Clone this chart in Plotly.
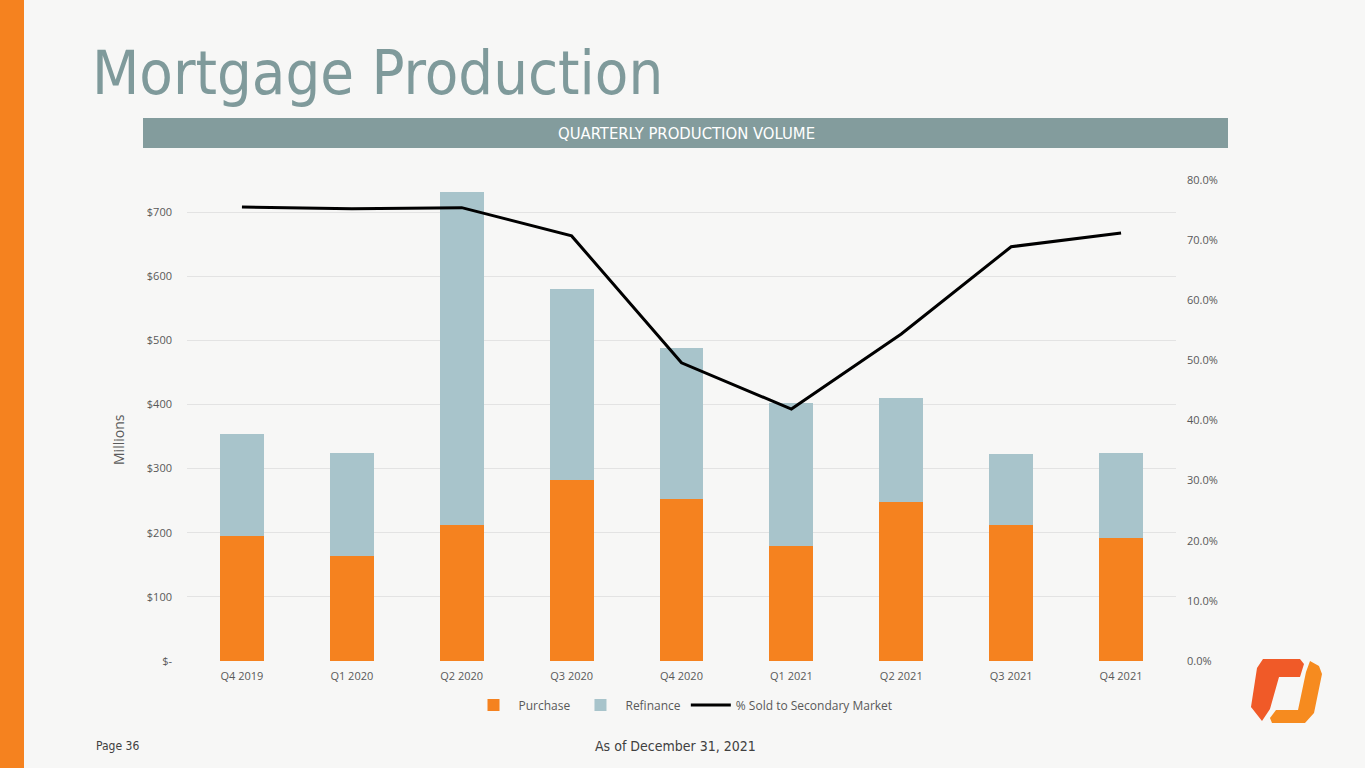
#!/usr/bin/env python3
# plot.py - quarterly mortgage production slide, rebuilt with plotly

import plotly.graph_objects as go

W, H = 1365, 768

quarters = ["Q4 2019", "Q1 2020", "Q2 2020", "Q3 2020", "Q4 2020",
            "Q1 2021", "Q2 2021", "Q3 2021", "Q4 2021"]
purchase = [195, 164, 212, 282, 253, 179, 248, 212, 192]
refinance = [159, 160, 519, 298, 235, 223, 162, 111, 132]
pct_sold = [0.755, 0.752, 0.754, 0.707, 0.496, 0.419, 0.544, 0.689, 0.712]

left_ticks = [0, 100, 200, 300, 400, 500, 600, 700]
left_labels = ["$-", "$100", "$200", "$300", "$400", "$500", "$600", "$700"]

ORANGE = "#f5821f"
REFI = "#a8c4cb"
SLATE = "#839c9d"
GREY_TXT = "#595959"
FONT = "Liberation Sans Narrow, DejaVu Sans Condensed, Open Sans, sans-serif"
TICK_FONT = "Open Sans, Noto Sans, sans-serif"


def px(x, y):
    """pixel -> paper coords (margins are zero)"""
    return x / W, 1 - y / H


def path_from(points):
    parts = []
    for i, (x, y) in enumerate(points):
        u, v = px(x, y)
        parts.append(("M" if i == 0 else "L") + f"{u:.5f},{v:.5f}")
    return " ".join(parts) + " Z"


fig = go.Figure()

fig.add_trace(go.Bar(x=quarters, y=purchase, name="Purchase",
                     marker=dict(color=ORANGE, line=dict(width=0))))
fig.add_trace(go.Bar(x=quarters, y=refinance, name="Refinance",
                     marker=dict(color=REFI, line=dict(width=0))))
fig.add_trace(go.Scatter(x=quarters, y=pct_sold, name="% Sold to Secondary Market",
                         mode="lines", line=dict(color="black", width=3),
                         yaxis="y2"))

x0, x1 = px(187, 0)[0], px(1176, 0)[0]
y_bot, y_top = px(0, 661)[1], px(0, 180)[1]

shapes = [
    # orange strip on the left edge
    dict(type="rect", xref="paper", yref="paper", x0=0, x1=24 / W, y0=0, y1=1,
         fillcolor=ORANGE, line=dict(width=0), layer="below"),
    # section header bar
    dict(type="rect", xref="paper", yref="paper",
         x0=143 / W, x1=1228 / W, y0=1 - 148 / H, y1=1 - 118 / H,
         fillcolor=SLATE, line=dict(width=0), layer="below"),
    # logo, left piece (slanted top bar + stem)
    dict(type="path", xref="paper", yref="paper", layer="above",
         path=path_from([(1263, 659), (1300, 659), (1304, 664), (1300, 677),
                         (1279, 677), (1270, 709), (1262, 721), (1251, 707),
                         (1257, 668)]),
         fillcolor="#f05a28", line=dict(width=0)),
    # logo, right piece (stem + bottom bar)
    dict(type="path", xref="paper", yref="paper", layer="above",
         path=path_from([(1310, 661), (1319, 666), (1322, 674), (1314, 713),
                         (1305, 723), (1272, 723), (1270, 718), (1276, 710),
                         (1298, 710), (1306, 672)]),
         fillcolor="#f68b1f", line=dict(width=0)),
]

annotations = [
    dict(text="Mortgage Production", x=90 / W, y=1 - 110 / H, xref="paper", yref="paper",
         xanchor="left", yanchor="bottom", showarrow=False,
         font=dict(family=FONT, size=61, color="#7f9a9b")),
    dict(text="QUARTERLY PRODUCTION VOLUME", x=686 / W, y=1 - 133 / H,
         xref="paper", yref="paper", xanchor="center", yanchor="middle",
         showarrow=False, font=dict(family=FONT, size=16.5, color="white")),
    dict(text="Millions", x=118 / W, y=1 - 440 / H, xref="paper", yref="paper",
         textangle=-90, xanchor="center", yanchor="middle", showarrow=False,
         font=dict(family=TICK_FONT, size=14, color=GREY_TXT)),
    dict(text="Page 36", x=94 / W, y=1 - 746 / H, xref="paper", yref="paper",
         xanchor="left", yanchor="middle", showarrow=False,
         font=dict(family=FONT, size=12, color="#404040")),
    dict(text="As of December 31, 2021", x=675 / W, y=1 - 746 / H,
         xref="paper", yref="paper", xanchor="center", yanchor="middle",
         showarrow=False, font=dict(family=FONT, size=14, color="#404040")),
]

fig.update_layout(
    width=W, height=H,
    margin=dict(l=0, r=0, t=0, b=0, autoexpand=False),
    paper_bgcolor="#f7f7f6",
    plot_bgcolor="rgba(0,0,0,0)",
    barmode="stack",
    bargap=0.6,
    showlegend=True,
    legend=dict(orientation="h", x=683 / W, y=1 - 705 / H, xanchor="center",
                yanchor="middle", bgcolor="rgba(0,0,0,0)",
                font=dict(family=TICK_FONT, size=12, color=GREY_TXT),
                traceorder="normal", itemwidth=40),
    xaxis=dict(domain=[x0, x1], showgrid=False, showline=False, zeroline=False,
               tickfont=dict(family=TICK_FONT, size=11, color=GREY_TXT),
               ticks="", ticklabelstandoff=7, automargin=False),
    yaxis=dict(domain=[y_bot, y_top], range=[0, 750],
               tickvals=left_ticks, ticktext=left_labels,
               showgrid=True, gridcolor="#e3e3e3", gridwidth=1,
               zeroline=False, showline=False, automargin=False,
               tickfont=dict(family=TICK_FONT, size=11, color=GREY_TXT),
               ticklabelstandoff=14),
    yaxis2=dict(overlaying="y", side="right", range=[0, 0.8], dtick=0.1,
                tickformat=".1%", showgrid=False, zeroline=False, showline=False,
                automargin=False,
                tickfont=dict(family=TICK_FONT, size=11, color=GREY_TXT),
                ticklabelstandoff=10),
    shapes=shapes,
    annotations=annotations,
    hovermode="x unified",
)

# pin the slide to the window corner so page margins don't shift or scale it
pin = (
    "document.documentElement.style.margin='0';"
    "document.body.style.margin='0';document.body.style.padding='0';"
    "document.body.style.overflow='hidden';"
    "var gd=document.getElementById('{plot_id}');"
    "gd.style.position='fixed';gd.style.top='0';gd.style.left='0';"
)
fig.write_html("out.html", post_script=pin, config={"displayModeBar": False})
